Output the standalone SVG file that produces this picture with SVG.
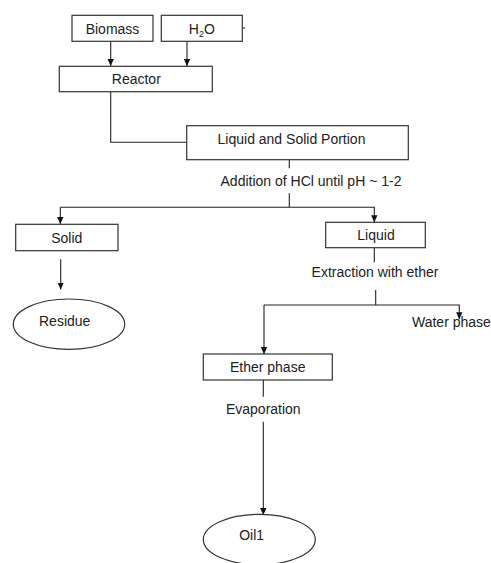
<svg xmlns="http://www.w3.org/2000/svg" width="491" height="563" viewBox="0 0 491 563">
<style>
.box{fill:#fff;stroke:#333;stroke-width:1.2}
.t{font-family:"Liberation Sans",Arial,sans-serif;font-size:14px;fill:#222;text-anchor:middle}
.c{fill:none;stroke:#222;stroke-width:1.1}
</style>
<defs>
<marker id="ah" markerWidth="8" markerHeight="8" refX="7" refY="4" orient="auto" markerUnits="userSpaceOnUse">
<path d="M0,0.8 L7,4 L0,7.2 Z" fill="#111"/>
</marker>
</defs>
<rect width="491" height="563" fill="#fff"/>
<g id="connectors">
<line class="c" x1="110.7" y1="41.3" x2="110.7" y2="66" marker-end="url(#ah)"/>
<line class="c" x1="187" y1="41.3" x2="187" y2="66" marker-end="url(#ah)"/>
<line class="c" x1="242.3" y1="28" x2="245" y2="28"/>
<polyline class="c" points="110.7,91.7 110.7,142.3 186.7,142.3"/>
<line class="c" x1="289.3" y1="159.7" x2="289.3" y2="168.3"/>
<line class="c" x1="289.3" y1="193.3" x2="289.3" y2="207.3"/>
<polyline class="c" points="60.3,207.3 374.3,207.3 374.3,222.3" marker-end="url(#ah)"/>
<line class="c" x1="60.3" y1="207.3" x2="60.3" y2="224" marker-end="url(#ah)"/>
<line class="c" x1="60.7" y1="259.3" x2="60.7" y2="289.5" marker-end="url(#ah)"/>
<line class="c" x1="374.3" y1="247.7" x2="374.3" y2="262.3"/>
<line class="c" x1="375.7" y1="290" x2="375.7" y2="305"/>
<polyline class="c" points="264,305 459.3,305 459.3,319.3" marker-end="url(#ah)"/>
<line class="c" x1="264" y1="305" x2="264" y2="354" marker-end="url(#ah)"/>
<line class="c" x1="263.3" y1="380" x2="263.3" y2="396.7"/>
<line class="c" x1="263.3" y1="421.7" x2="263.3" y2="515" marker-end="url(#ah)"/>
</g>
<g id="biomass">
<rect class="box" x="72" y="15.3" width="81" height="26"/>
<text class="t" x="112.5" y="34.3">Biomass</text>
</g>
<g id="h2o">
<rect class="box" x="161.3" y="15.3" width="81" height="26"/>
<text class="t" x="201.8" y="34.3">H<tspan font-size="9" dy="3">2</tspan><tspan dy="-3">O</tspan></text>
</g>
<g id="reactor">
<rect class="box" x="59.3" y="66.3" width="153" height="25.4"/>
<text class="t" x="136.3" y="84">Reactor</text>
</g>
<g id="liquid-solid">
<rect class="box" x="186.7" y="125.7" width="221.6" height="34"/>
<text class="t" x="291.5" y="144">Liquid and Solid Portion</text>
</g>
<g id="hcl-label">
<text class="t" x="311" y="186">Addition of HCl until pH ~ 1-2</text>
</g>
<g id="solid">
<rect class="box" x="15.7" y="224.3" width="102.3" height="26.4"/>
<text class="t" x="66.8" y="243.3">Solid</text>
</g>
<g id="residue">
<ellipse class="box" cx="69" cy="324.2" rx="55.7" ry="25.2"/>
<text class="t" x="64.7" y="325.7">Residue</text>
</g>
<g id="liquid">
<rect class="box" x="325.7" y="222.3" width="99.6" height="25.4"/>
<text class="t" x="376" y="240">Liquid</text>
</g>
<g id="extraction-label">
<text class="t" x="375" y="277">Extraction with ether</text>
</g>
<g id="water-phase">
<text class="t" x="412" y="326.7" style="text-anchor:start">Water phase</text>
</g>
<g id="ether-phase">
<rect class="box" x="203.3" y="354" width="129" height="26"/>
<text class="t" x="267.7" y="371.7">Ether phase</text>
</g>
<g id="evaporation-label">
<text class="t" x="263.3" y="414">Evaporation</text>
</g>
<g id="oil1">
<ellipse class="box" cx="259.3" cy="539.5" rx="56" ry="25.2"/>
<text class="t" x="251.7" y="540">Oil1</text>
</g>
</svg>
